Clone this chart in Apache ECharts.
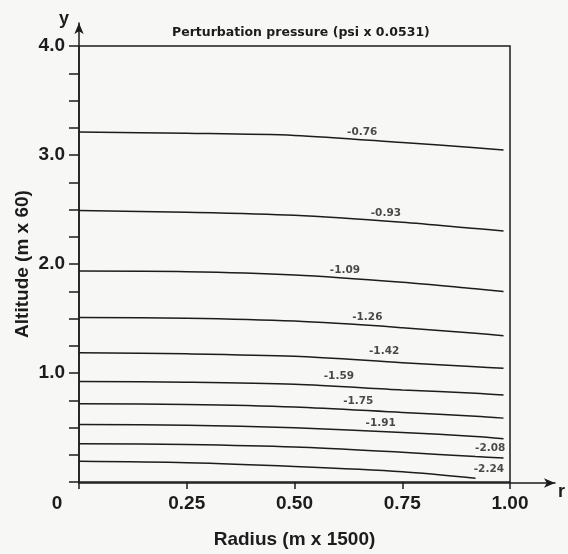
<!DOCTYPE html>
<html>
<head>
<meta charset="utf-8">
<script src="https://cdn.jsdelivr.net/npm/echarts@6/dist/echarts.min.js"></script>
<style>
    html, body { margin: 0; padding: 0; background: #f7f7f6; }
    #chart { width: 568px; height: 554px; }
</style>
</head>
<body>
<div id="chart"></div>
<script>
// radius sample points (m x 1500)
const radius = [0, 0.25, 0.5, 0.75, 0.92, 0.985]
// contour levels, perturbation pressure
const levels = ['-0.76', '-0.93', '-1.09', '-1.26', '-1.42', '-1.59', '-1.75', '-1.91', '-2.08', '-2.24']
// altitude of each contour at the radius points (m x 60)
const alt076 = [3.21, 3.20, 3.18, 3.115, 3.066, 3.045]
const alt093 = [2.49, 2.475, 2.447, 2.383, 2.325, 2.303]
const alt109 = [1.935, 1.93, 1.90, 1.833, 1.772, 1.748]
const alt126 = [1.51, 1.503, 1.476, 1.416, 1.364, 1.342]
const alt142 = [1.185, 1.176, 1.153, 1.095, 1.058, 1.043]
const alt159 = [0.922, 0.916, 0.897, 0.845, 0.815, 0.799]
const alt175 = [0.718, 0.712, 0.689, 0.638, 0.604, 0.586]
const alt191 = [0.528, 0.52, 0.497, 0.455, 0.417, 0.396]
const alt208 = [0.352, 0.343, 0.320, 0.272, 0.234, 0.220]
const alt224 = [0.19, 0.177, 0.143, 0.095, 0.035, null]
// where the level labels sit
const labelR = [0.657, 0.712, 0.617, 0.669, 0.708, 0.603, 0.648, 0.700, 0.954, 0.951]
const labelAlt = [3.213, 2.465, 1.943, 1.510, 1.195, 0.967, 0.738, 0.543, 0.314, 0.113]

const altitudes = [alt076, alt093, alt109, alt126, alt142, alt159, alt175, alt191, alt208, alt224]

const font = 'Liberation Sans'
const wideFont = 'DejaVu Sans'
const ink = '#1c1c1c'

const chart = echarts.init(document.getElementById('chart'))

// contour lines
const lineSeries = levels.map((name, i) => {
    return {
        name,
        type: 'line',
        xAxisIndex: 0,
        yAxisIndex: 0,
        smooth: 0.3,
        showSymbol: false,
        data: radius.map((r, j) => [r, altitudes[i][j]]).filter(p => p[1] != null),
        lineStyle: { color: ink, width: 1.5 }
    }
})

// level labels
const labelSeries = {
    type: 'scatter',
    xAxisIndex: 0,
    yAxisIndex: 0,
    symbolSize: 1,
    itemStyle: { color: 'transparent' },
    data: levels.map((name, i) => ({ name, value: [labelR[i], labelAlt[i]] })),
    label: {
        show: true,
        position: 'inside',
        formatter: p => p.name,
        fontFamily: wideFont,
        fontSize: 10.5,
        fontWeight: 'bold',
        color: ink
    },
    z: 5
}

const tickText = { fontFamily: font, fontSize: 19, fontWeight: 'bold', color: ink }

const option = {
    backgroundColor: '#f7f7f6',
    animation: false,
    title: {
        text: 'Perturbation pressure (psi x 0.0531)',
        left: 167,
        top: 21,
        textStyle: { fontFamily: wideFont, fontSize: 12.5, fontWeight: 'bold', color: ink }
    },
    grid: [
        { left: 79, right: 58, top: 46, bottom: 71, show: true, borderColor: ink, borderWidth: 1.5, backgroundColor: 'transparent' },
        { left: 79, right: 13, top: 23, bottom: 71 }
    ],
    xAxis: [
        {
            type: 'value',
            gridIndex: 0,
            min: 0,
            max: 1,
            interval: 0.25,
            name: 'Radius (m x 1500)',
            nameLocation: 'middle',
            nameGap: 48,
            nameTextStyle: tickText,
            axisLine: { show: false },
            axisTick: { show: true, length: 7, lineStyle: { color: ink, width: 1.5 } },
            splitLine: { show: false },
            axisLabel: {
                ...tickText,
                margin: 12,
                formatter: v => (v === 0 ? '{o|0}' : v.toFixed(2)),
                rich: { o: { ...tickText, padding: [0, 44, 0, 0] } }
            }
        },
        {
            type: 'value',
            gridIndex: 1,
            min: 0,
            max: 1,
            name: 'r',
            nameLocation: 'end',
            nameGap: 3,
            nameTextStyle: { ...tickText, fontSize: 18, verticalAlign: 'top' },
            axisLine: { show: true, symbol: ['none', 'arrow'], symbolSize: [7, 11], lineStyle: { color: ink, width: 1.5 } },
            axisTick: { show: false },
            axisLabel: { show: false },
            splitLine: { show: false }
        }
    ],
    yAxis: [
        {
            type: 'value',
            gridIndex: 0,
            min: 0,
            max: 4,
            interval: 0.25,
            name: 'Altitude (m x 60)',
            nameLocation: 'middle',
            nameGap: 47,
            nameMoveOverlap: false,
            nameTextStyle: tickText,
            axisLine: { show: false },
            axisTick: { show: true, length: 10, lineStyle: { color: ink, width: 1.5 } },
            splitLine: { show: false },
            axisLabel: {
                ...tickText,
                margin: 14,
                formatter: v => (v > 0 && v % 1 === 0 ? v.toFixed(1) : '')
            }
        },
        {
            type: 'value',
            gridIndex: 1,
            min: 0,
            max: 1,
            name: 'y',
            nameLocation: 'end',
            nameGap: -5,
            nameTextStyle: { ...tickText, fontSize: 18, align: 'right', padding: [0, 10, 0, 0] },
            axisLine: { show: true, symbol: ['none', 'arrow'], symbolSize: [7, 11], lineStyle: { color: ink, width: 1.5 } },
            axisTick: { show: false },
            axisLabel: { show: false },
            splitLine: { show: false }
        }
    ],
    series: [...lineSeries, labelSeries]
}

chart.setOption(option)
</script>
</body>
</html>
